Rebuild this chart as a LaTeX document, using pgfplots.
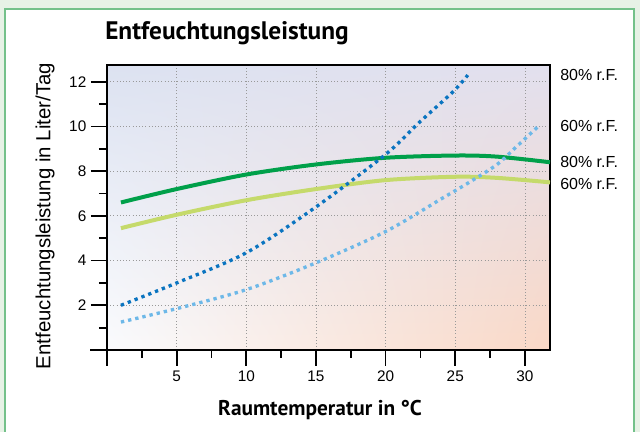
\documentclass[border=0pt]{standalone}
\usepackage{pgfplots}
\pgfplotsset{compat=1.18}
\usetikzlibrary{shadings}
\usepackage{fontspec}
\setmainfont{Liberation Sans}
\newfontfamily\titlefont{PT Sans}
\definecolor{outerbg}{HTML}{E7F2E6}
\definecolor{panelborder}{HTML}{74C18A}
\definecolor{dkgreen}{HTML}{00A04A}
\definecolor{ltgreen}{HTML}{C5DA6B}
\definecolor{dkblue}{HTML}{0A74C0}
\definecolor{ltblue}{HTML}{6DB8E8}
\definecolor{bgUL}{HTML}{DCE2F1}
\definecolor{bgUR}{HTML}{E2E0EE}
\definecolor{bgLL}{HTML}{FAFBFD}
\definecolor{bgLR}{HTML}{FAD8C6}
\begin{document}
\begin{tikzpicture}
\useasboundingbox (0,0) rectangle (480pt,324pt);
\fill[outerbg] (0,0) rectangle (480pt,324pt);
\draw[panelborder, line width=1.3pt, fill=white] (3.75pt,-10pt) rectangle (475.5pt,317.25pt);
\begin{axis}[
  at={(80.25pt,61.5pt)}, anchor=south west,
  scale only axis, width=332.25pt, height=213.75pt,
  xmin=0, xmax=31.8, ymin=0, ymax=12.75,
  axis background/.style={shade, upper left=bgUL, upper right=bgUR, lower left=bgLL, lower right=bgLR},
  axis line style={black, line width=1.3pt},
  every tick/.style={black, line width=1.3pt},
  tick align=outside,
  xtick pos=bottom, ytick pos=left,
  major tick length=12pt, minor tick length=6pt,
  xtick={0,5,10,15,20,25,30}, xticklabels={,5,10,15,20,25,30},
  minor xtick={2.5,7.5,12.5,17.5,22.5,27.5},
  ytick={0,2,4,6,8,10,12}, yticklabels={,2,4,6,8,10,12},
  minor ytick={1,3,5,7,9,11},
  grid=major,
  major grid style={gray!80, dotted, line width=0.6pt},
  tick label style={font=\fontsize{11.5}{13}\selectfont},
  /pgf/number format/assume math mode=true,
  clip=false,
]
\addplot[smooth, line width=3pt, color=ltgreen] coordinates {
 (1,5.45) (5,6.05) (10,6.7) (15,7.2) (20,7.6) (25,7.75) (28,7.7) (31.8,7.5)};
\addplot[smooth, line width=3pt, color=dkgreen] coordinates {
 (1,6.6) (5,7.2) (10,7.85) (15,8.3) (20,8.6) (25,8.7) (28,8.65) (31.8,8.4)};
\addplot[smooth, line width=2.5pt, color=ltblue, dash pattern=on 2.5pt off 3pt] coordinates {
 (1,1.25) (5,1.85) (10,2.7) (15,3.9) (20,5.3) (24.1,6.8) (26,7.5) (28,8.3) (29.4,9.1) (30.95,10.0)};
\addplot[smooth, line width=2.5pt, color=dkblue, dash pattern=on 2.5pt off 3pt] coordinates {
 (1,2.0) (5,3.0) (10,4.35) (15,6.4) (20,8.75) (22.45,10.2) (24.85,11.56) (25.9,12.3)};
\node[anchor=west, inner sep=0pt, xshift=7.5pt, font=\fontsize{12}{14}\selectfont] at (axis cs:31.8,12.29) {80\% r.F.};
\node[anchor=west, inner sep=0pt, xshift=7.5pt, font=\fontsize{12}{14}\selectfont] at (axis cs:31.8,10.0) {60\% r.F.};
\node[anchor=west, inner sep=0pt, xshift=7.5pt, font=\fontsize{12}{14}\selectfont] at (axis cs:31.8,8.43) {80\% r.F.};
\node[anchor=west, inner sep=0pt, xshift=7.5pt, font=\fontsize{12}{14}\selectfont] at (axis cs:31.8,7.44) {60\% r.F.};
\draw[black, line width=1.3pt] (axis cs:0,0) -- ++(-12.75pt,0);
\end{axis}
\node[anchor=base west, inner sep=0pt, font=\titlefont\bfseries\fontsize{19}{22}\selectfont] at (78.75pt,294pt) {Entfeuchtungsleistung};
\node[anchor=base, inner sep=0pt, font=\titlefont\bfseries\fontsize{16}{19}\selectfont] at (240pt,12pt) {Raumtemperatur in °C};
\node[rotate=90, inner sep=0pt, font=\fontsize{15.3}{18}\selectfont] at (33.75pt,162pt) {Entfeuchtungsleistung in Liter/Tag};
\end{tikzpicture}
\end{document}
